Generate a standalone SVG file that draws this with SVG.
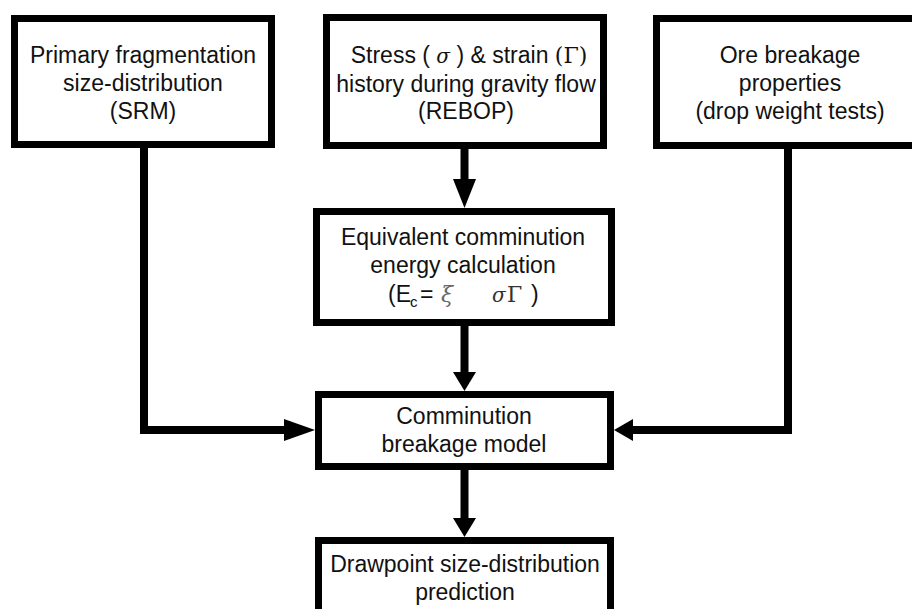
<svg xmlns="http://www.w3.org/2000/svg" width="912" height="609" viewBox="0 0 912 609">
<style>
.box{fill:#fff;stroke:#000;stroke-width:7;}
.t{font-family:"Liberation Sans",Arial,sans-serif;font-size:23px;fill:#111;text-anchor:middle;}
.m{font-family:"DejaVu Serif","Liberation Serif",serif;}
.ln{fill:none;stroke:#000;stroke-width:8;stroke-linejoin:miter;}
.ah{fill:#000;stroke:none;}
</style>
<rect width="912" height="609" fill="#fff"/>
<g id="connectors">
<path class="ln" d="M144,148 V430 H286"/>
<polygon class="ah" points="284,419 315,430 284,441"/>
<path class="ln" d="M788,149 V430 H631"/>
<polygon class="ah" points="633,419 614,430 633,441"/>
<path class="ln" d="M464.5,149 V181"/>
<polygon class="ah" points="453,179 476,179 464.5,208"/>
<path class="ln" d="M464.5,326 V374"/>
<polygon class="ah" points="453,372 476,372 464.5,391"/>
<path class="ln" d="M464.5,470 V520"/>
<polygon class="ah" points="453,518 476,518 464.5,537"/>
</g>
<g id="n1">
<rect class="box" x="14.5" y="18.5" width="257" height="126"/>
<text class="t" x="143" y="63">Primary fragmentation</text>
<text class="t" x="143" y="91">size-distribution</text>
<text class="t" x="143" y="119">(SRM)</text>
</g>
<g id="n2">
<rect class="box" x="326.5" y="17.5" width="277" height="128"/>
<text class="t" x="469" y="63">Stress ( <tspan class="m" font-style="italic" font-size="20">σ</tspan> ) &amp; strain <tspan class="m" font-size="22">(Γ)</tspan></text>
<text class="t" x="466" y="92">history during gravity flow</text>
<text class="t" x="466" y="119">(REBOP)</text>
</g>
<g id="n3">
<rect class="box" x="656.5" y="18.5" width="300" height="127"/>
<text class="t" x="790" y="63">Ore breakage</text>
<text class="t" x="790" y="91">properties</text>
<text class="t" x="790" y="119">(drop weight tests)</text>
</g>
<g id="n4">
<rect class="box" x="316.5" y="211.5" width="295" height="111"/>
<text class="t" x="463" y="245">Equivalent comminution</text>
<text class="t" x="463" y="273">energy calculation</text>
<text class="t" style="text-anchor:start" y="302"><tspan x="388">(E</tspan><tspan x="410" dy="5" font-size="15">c</tspan><tspan x="420" dy="-5">=</tspan><tspan class="m" x="441" font-style="italic" font-size="22" fill="#666">ξ</tspan><tspan class="m" x="492" font-style="italic" font-size="20" fill="#333">σ</tspan><tspan class="m" x="507" font-size="22" fill="#333">Γ</tspan><tspan x="531">)</tspan></text>
</g>
<g id="n5">
<rect class="box" x="318.5" y="394.5" width="292" height="72"/>
<text class="t" x="464" y="424">Comminution</text>
<text class="t" x="464" y="452">breakage model</text>
</g>
<g id="n6">
<rect class="box" x="318.5" y="540.5" width="292" height="100"/>
<text class="t" x="465" y="572">Drawpoint size-distribution</text>
<text class="t" x="465" y="600">prediction</text>
</g>
</svg>
